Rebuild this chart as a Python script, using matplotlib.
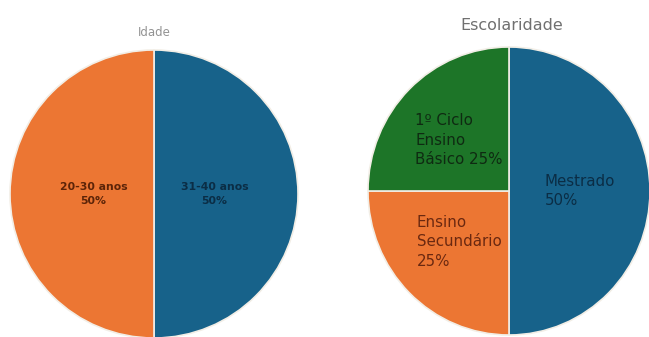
import matplotlib
matplotlib.use("Agg")
import matplotlib.pyplot as plt

# Data
idade_labels = ["31-40 anos\n50%", "20-30 anos\n50%"]
idade_values = [50, 50]
idade_colors = ["#17628A", "#EC7633"]
idade_text_colors = ["#0B2D45", "#5C2408"]

esc_labels = ["Mestrado\n50%", "Ensino\nSecundário\n25%", "1º Ciclo\nEnsino\nBásico 25%"]
esc_values = [50, 25, 25]
esc_colors = ["#17628A", "#EC7633", "#1D7528"]
esc_text_colors = ["#0B2D45", "#6A2810", "#0F2A12"]

W, H = 649, 337
fig = plt.figure(figsize=(W / 100, H / 100), dpi=100)
fig.patch.set_facecolor("white")


def make_ax(cx, cy, rx, ry):
    return fig.add_axes([(cx - rx) / W, (H - cy - ry) / H, 2 * rx / W, 2 * ry / H])


# Left pie: Idade
ax1 = make_ax(154, 194, 144, 144)
wedges, texts = ax1.pie(idade_values, labels=idade_labels, colors=idade_colors,
                        startangle=90, counterclock=False, labeldistance=0.42,
                        wedgeprops=dict(edgecolor="#F2EEE6", linewidth=1.2))
for t, c in zip(texts, idade_text_colors):
    t.set_ha("center"); t.set_va("center"); t.set_multialignment("center")
    t.set_fontsize(7.8); t.set_color(c); t.set_fontweight("bold")
    t.set_linespacing(1.45)
ax1.set_xlim(-1, 1); ax1.set_ylim(-1, 1)
ax1.set_aspect("auto"); ax1.axis("off")

# Right pie: Escolaridade
ax2 = make_ax(509, 191, 141, 144)
wedges2, texts2 = ax2.pie(esc_values, labels=esc_labels, colors=esc_colors,
                          startangle=90, counterclock=False, labeldistance=0.5,
                          wedgeprops=dict(edgecolor="#F2EEE6", linewidth=1.2))
for t, c in zip(texts2, esc_text_colors):
    t.set_ha("center"); t.set_va("center"); t.set_multialignment("left")
    t.set_fontsize(10.8); t.set_color(c)
    t.set_linespacing(1.4)
ax2.set_xlim(-1, 1); ax2.set_ylim(-1, 1)
ax2.set_aspect("auto"); ax2.axis("off")

fig.text(154 / W, 1 - 32 / H, "Idade", ha="center", va="center", fontsize=8.5, color="#939393")
fig.text(512 / W, 1 - 25 / H, "Escolaridade", ha="center", va="center", fontsize=11.5, color="#707070")

fig.savefig("out.png", dpi=100, facecolor="white")
